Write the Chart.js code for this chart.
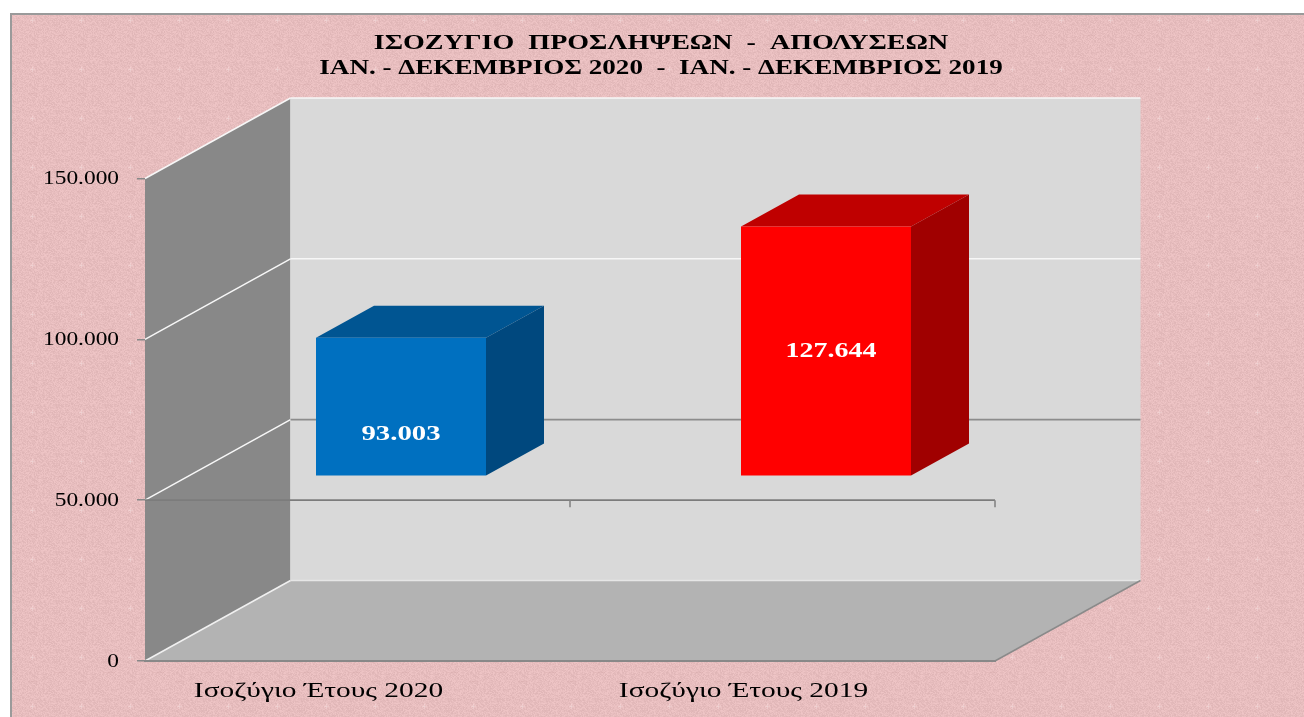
<!DOCTYPE html>
<html>
<head>
<meta charset="utf-8">
<style>html,body{margin:0;padding:0;background:#fff;overflow:hidden}canvas{display:block}</style>
<script src="https://cdn.jsdelivr.net/npm/chart.js@4"></script>
</head>
<body>
<canvas id="c" width="1304" height="717"></canvas>
<script>
const titleLines = ['ΙΣΟΖΥΓΙΟ  ΠΡΟΣΛΗΨΕΩΝ  -  ΑΠΟΛΥΣΕΩΝ', 'ΙΑΝ. - ΔΕΚΕΜΒΡΙΟΣ 2020  -  ΙΑΝ. - ΔΕΚΕΜΒΡΙΟΣ 2019'];
const categories = ['Ισοζύγιο Έτους 2020', 'Ισοζύγιο Έτους 2019'];
const balances = [93003, 127644];
const axisMin = 0, axisMax = 150000, axisStep = 50000, axisCross = 50000;
const frontColors = ['#0070c0', '#ff0000'];
const topColors = ['#005592', '#bf0000'];
const sideColors = ['#00487e', '#a00000'];
const labelLift = [41, 124];
const labelNudge = [0, 5];

const WALL_DX = 145.5, WALL_DY = -80.5;
const BAR_DX = 43.5, BAR_DY = -24;
const BOX_DX = 58, BOX_DY = -32;
const fmt = v => String(v).replace(/\B(?=(\d{3})+$)/g, '.');

function poly(ctx, pts, fill, stroke, lw) {
  ctx.beginPath();
  pts.forEach((p, i) => i ? ctx.lineTo(p[0], p[1]) : ctx.moveTo(p[0], p[1]));
  ctx.closePath();
  if (fill) { ctx.fillStyle = fill; ctx.fill(); }
  if (stroke) { ctx.strokeStyle = stroke; ctx.lineWidth = lw || 1; ctx.stroke(); }
}
function seg(ctx, x1, y1, x2, y2, color, lw) {
  ctx.beginPath(); ctx.moveTo(x1, y1); ctx.lineTo(x2, y2);
  ctx.strokeStyle = color; ctx.lineWidth = lw; ctx.stroke();
}
function paperTile() {
  const s = 49, raw = document.createElement('canvas');
  raw.width = raw.height = s;
  const g = raw.getContext('2d'), d = g.createImageData(s, s);
  for (let y = 0; y < s; y++) for (let x = 0; x < s; x++) {
    const h = Math.sin(x * 12.9898 + y * 78.233) * 43758.5453;
    const n = (h - Math.floor(h) - 0.5) * 16;
    const i = (y * s + x) * 4;
    d.data[i] = 231 + n; d.data[i + 1] = 189 + n; d.data[i + 2] = 190 + n; d.data[i + 3] = 255;
  }
  g.putImageData(d, 0, 0);
  g.fillStyle = 'rgba(255,240,240,.3)';
  g.fillRect(30, 20, 5, 1); g.fillRect(32, 18, 1, 5);
  g.fillStyle = 'rgba(190,140,140,.14)';
  g.fillRect(5, 35, 12, 1); g.fillRect(28, 44, 10, 1);
  const t = document.createElement('canvas');
  t.width = t.height = s;
  const f = t.getContext('2d');
  f.filter = 'blur(0.7px)';
  for (let a = -1; a <= 1; a++) for (let b = -1; b <= 1; b++) f.drawImage(raw, a * s, b * s);
  return t;
}

const textStretch = new Map([
  [titleLines[0], 1.335], [titleLines[1], 1.29],
  [fmt(balances[0]), 1.37], [fmt(balances[1]), 1.33],
  [categories[0], 1.40], [categories[1], 1.40]
]);
const stretchText = {
  id: 'stretchText',
  beforeInit(chart) {
    const ctx = chart.ctx, orig = ctx.fillText.bind(ctx);
    ctx.fillText = function (t, x, y, m) {
      const k = textStretch.get(t) || 1.23;
      const dy = textStretch.has(t) ? 0 : 1;
      ctx.save(); ctx.translate(x, y + dy); ctx.scale(k, 1); orig(t, 0, 0, m); ctx.restore();
    };
  }
};

const room = {
  id: 'room',
  beforeDraw(chart) {
    const ctx = chart.ctx, xs = chart.scales.x, ys = chart.scales.y;
    const L = xs.left, R = xs.right, B = ys.getPixelForValue(axisMin), T = ys.getPixelForValue(axisMax);
    ctx.save();
    ctx.fillStyle = '#fff'; ctx.fillRect(0, 0, chart.width, chart.height);
    ctx.fillStyle = ctx.createPattern(paperTile(), 'repeat');
    ctx.fillRect(11, 13, chart.width - 11, chart.height - 13);
    ctx.fillStyle = '#9a9a9a';
    ctx.fillRect(10, 13, chart.width - 10, 2);
    ctx.fillRect(10, 13, 2, chart.height - 13);
    const bx = L + WALL_DX, by = WALL_DY;
    poly(ctx, [[bx, T + by], [R + WALL_DX, T + by], [R + WALL_DX, B + by], [bx, B + by]], '#d9d9d9');
    poly(ctx, [[L, T], [bx, T + by], [bx, B + by], [L, B]], '#888888');
    poly(ctx, [[L, B], [R, B], [R + WALL_DX, B + by], [bx, B + by]], '#b3b3b3');
    seg(ctx, bx, B + by, R + WALL_DX, B + by, '#e6e6e6', 1.5);
    seg(ctx, bx, T + by, bx, B + by, '#cfcfcf', 1);
    seg(ctx, R, B, R + WALL_DX, B + by, '#8a8a8a', 1.5);
    seg(ctx, L, B, bx, B + by, '#f0f0f0', 1.5);
    for (let v = axisMin + axisStep; v <= axisMax; v += axisStep) {
      const y = ys.getPixelForValue(v);
      seg(ctx, L, y, bx, y + by, '#f7f7f7', 1.5);
      seg(ctx, bx, y + by, R + WALL_DX, y + by, v === axisCross ? '#8c8c8c' : '#f7f7f7', 1.6);
    }
    const cy = ys.getPixelForValue(axisCross);
    seg(ctx, L, cy, R, cy, '#7c7c7c', 1.6);
    const band = (R - L) / categories.length;
    categories.forEach((c, i) => seg(ctx, L + band * (i + 1), cy, L + band * (i + 1), cy + 7, '#858585', 1.6));
    ctx.restore();
  },
  beforeDatasetDraw(chart, args) {
    const ctx = chart.ctx, meta = args.meta;
    ctx.save();
    ctx.translate(BAR_DX, BAR_DY);
    meta.data.forEach((el, i) => {
      const l = el.x - el.width / 2, r = el.x + el.width / 2;
      poly(ctx, [[l, el.y], [r, el.y], [r + BOX_DX, el.y + BOX_DY], [l + BOX_DX, el.y + BOX_DY]], topColors[i]);
      poly(ctx, [[r, el.y], [r + BOX_DX, el.y + BOX_DY], [r + BOX_DX, el.base + BOX_DY], [r, el.base]], sideColors[i]);
    });
  },
  afterDatasetDraw(chart, args) {
    const ctx = chart.ctx;
    args.meta.data.forEach((el, i) => {
      ctx.font = 'bold 21px "Liberation Serif"';
      ctx.fillStyle = '#fff';
      ctx.textAlign = 'center';
      ctx.textBaseline = 'middle';
      ctx.fillText(fmt(balances[i]), el.x + labelNudge[i], el.base - labelLift[i]);
    });
    ctx.restore();
  }
};

new Chart(document.getElementById('c'), {
  type: 'bar',
  data: {
    labels: categories,
    datasets: [{
      data: balances,
      base: axisCross,
      backgroundColor: frontColors,
      borderWidth: 0,
      barPercentage: 1,
      categoryPercentage: 0.4
    }]
  },
  plugins: [stretchText, room],
  options: {
    responsive: false,
    animation: false,
    devicePixelRatio: 1,
    events: [],
    layout: { padding: { left: 18, right: 0, top: 0, bottom: 0 } },
    plugins: {
      legend: { display: false },
      tooltip: { enabled: false },
      title: {
        display: true,
        text: titleLines,
        color: '#000',
        font: { family: '"Liberation Serif"', size: 21, weight: 'bold', lineHeight: 1.19 },
        padding: { top: 31.5, bottom: 97 }
      }
    },
    scales: {
      x: {
        type: 'category',
        offset: true,
        grid: { display: false },
        border: { display: true, color: '#888888', width: 2 },
        ticks: {
          color: '#000',
          font: { family: '"Liberation Serif"', size: 21 },
          labelOffset: -39,
          padding: 10,
          maxRotation: 0,
          autoSkip: false
        },
        afterFit(s) { s.height = 56; }
      },
      y: {
        min: axisMin,
        max: axisMax,
        grid: { drawOnChartArea: false, drawTicks: true, tickLength: 8, color: '#888888', lineWidth: 1.5 },
        border: { display: false },
        ticks: {
          stepSize: axisStep,
          color: '#000',
          padding: 18,
          font: { family: '"Liberation Serif"', size: 19 },
          callback: v => fmt(v)
        },
        afterFit(s) { s.width = 127; }
      },
      spare: {
        position: 'right',
        min: axisMin,
        max: axisMax,
        grid: { display: false },
        border: { display: false },
        ticks: { display: false },
        afterFit(s) { s.width = 309; }
      }
    }
  }
});
</script>
</body>
</html>
